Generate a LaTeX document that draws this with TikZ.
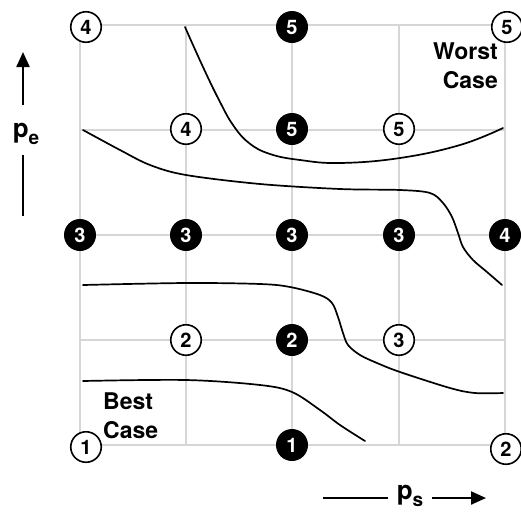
\documentclass[tikz,border=0pt]{standalone}
\usepackage{fontspec}
\setmainfont{TeX Gyre Heros}
\usetikzlibrary{arrows.meta}
\definecolor{gridgray}{RGB}{214,214,214}
\begin{document}
\begin{tikzpicture}[x=1pt,y=-1pt,
  wc/.style={circle,draw=black,line width=1.6pt,fill=white,minimum size=30.5pt,inner sep=0pt,font=\fontsize{20}{20}\selectfont\bfseries},
  bc/.style={circle,fill=black,text=white,minimum size=32pt,inner sep=0pt,font=\fontsize{20}{20}\selectfont\bfseries},
  curve/.style={line width=1.7pt,line cap=round},
  gridline/.style={gridgray,line width=1.8pt},
  lbl/.style={font=\fontsize{23}{29}\selectfont\bfseries,inner sep=0pt},
  axis/.style={line width=2.2pt},
  axisarrow/.style={line width=2.2pt,-{Triangle[length=15pt,width=13pt]}}]
\useasboundingbox (0,0) rectangle (521,512);
% grid
\foreach \x in {186,292,399} \draw[gridline] (\x,25) -- (\x,445);
\foreach \y in {130,235,340} \draw[gridline] (80,\y) -- (505,\y);
\draw[gridline,line width=2.8pt] (80,25) rectangle (505,445);
% curves
\draw[curve] plot[smooth,tension=0.7] coordinates {(185,27) (203,67) (219,100) (233,125) (249,143) (270,154) (300,160) (340,163) (400,158) (460,145) (503,128)};
\draw[curve] plot[smooth,tension=0.55] coordinates {(83,130) (120,150) (150,165) (186,175) (260,184) (340,189) (400,190) (430,193) (443,203) (452,217) (458,233) (463,247) (473,260) (487,272) (502,285)};
\draw[curve] plot[smooth,tension=0.55] coordinates {(83,285) (186,283) (260,284) (290,287) (320,295) (332,303) (338,317) (343,333) (348,345) (360,355) (377,363) (400,372) (450,388) (475,393) (503,393)};
\draw[curve] plot[smooth,tension=0.55] coordinates {(83,381) (186,380) (260,385) (292,392) (320,410) (340,425) (365,441)};
% circles
\node[wc] (c4tl) at (86,27) {4};
\node[bc] (c5t) at (292,27) {5};
\node[wc] (c5tr) at (507,27) {5};
\node[wc] (c4a) at (186,129) {4};
\node[bc] (c5b) at (292,129) {5};
\node[wc] (c5c) at (399,129) {5};
\node[bc] (c3a) at (80,235) {3};
\node[bc] (c3b) at (186,235) {3};
\node[bc] (c3c) at (292,235) {3};
\node[bc] (c3d) at (399,235) {3};
\node[bc] (c4r) at (505,235) {4};
\node[wc] (c2a) at (186,340) {2};
\node[bc] (c2b) at (292,340) {2};
\node[wc] (c3e) at (399,340) {3};
\node[wc] (c1bl) at (86,447) {1};
\node[bc] (c1b) at (292,445) {1};
\node[wc] (c2br) at (506,449) {2};
% labels
\node[lbl,align=right,anchor=east] (worst) at (498,66) {Worst\\Case};
\node[lbl,align=left,anchor=west] (best) at (103,416) {Best\\Case};
\node[inner sep=0pt,font=\bfseries] (pe) at (26,134) {\fontsize{26}{26}\selectfont p\raisebox{-0.28em}{\fontsize{19}{19}\selectfont e}};
\node[inner sep=0pt,font=\bfseries] (ps) at (410,496) {\fontsize{26}{26}\selectfont p\raisebox{-0.28em}{\fontsize{19}{19}\selectfont s}};
% axis arrows
\coordinate (peup0) at (23,105);
\coordinate (peup1) at (23,52);
\coordinate (pedn0) at (23,155);
\coordinate (pedn1) at (23,216);
\coordinate (psl0) at (323,498);
\coordinate (psl1) at (388,498);
\coordinate (psr0) at (432,498);
\coordinate (psr1) at (486,498);
\draw[axisarrow] (peup0) -- (peup1);
\draw[axis] (pedn0) -- (pedn1);
\draw[axis] (psl0) -- (psl1);
\draw[axisarrow] (psr0) -- (psr1);
\end{tikzpicture}
\end{document}
